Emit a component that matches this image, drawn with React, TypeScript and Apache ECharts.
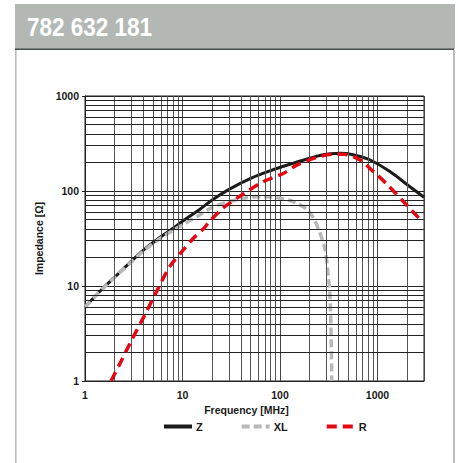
import React, { useEffect, useRef } from "react";
import * as echarts from "echarts";

const titleText = "782 632 181";
const xTickLabels = ["1", "10", "100", "1000"];
const xMinorGrid = [2, 3, 4, 5, 6, 7, 8, 9, 20, 30, 40, 50, 60, 70, 80, 90, 200, 300, 400, 500, 600, 700, 800, 900, 2000];
const yMinorGrid = [2, 3, 4, 5, 6, 7, 8, 9, 20, 30, 40, 50, 60, 70, 80, 90, 200, 300, 400, 500, 600, 700, 800, 900];

const zFreq = [1, 1.5, 2, 3, 4, 6, 8, 10, 15, 20, 30, 50, 80, 130, 190, 250, 330, 420, 560, 840, 1340, 2150, 3000];
const zVals = [6.0, 9.3, 12.3, 18.3, 24, 33, 40.5, 48, 64, 80, 104, 136, 164, 193, 217, 235, 246, 249, 241, 212, 160, 111, 86];

const xlFreq = [1, 1.5, 2, 3, 4, 6, 8, 10, 15, 20, 30, 45, 65, 80, 100, 125, 150, 190, 220, 255, 290, 313, 325, 334, 340];
const xlVals = [6.0, 9.2, 12.2, 18, 23.5, 32, 38.5, 44, 56, 67, 77, 85, 87, 86.5, 84, 80, 74, 64, 52, 37, 24, 12.5, 8.4, 3.2, 1.0];

const rFreq = [1.85, 2.3, 2.9, 4.1, 5.65, 7.4, 10.2, 13, 16.4, 19, 26, 42, 67, 108, 150, 240, 350, 450, 660, 910, 1230, 1850, 2700];
const rVals = [1.0, 1.55, 2.5, 4.95, 9.5, 16, 24, 32, 40, 48, 66, 93, 125, 153, 188, 226, 244, 244, 212, 160, 120, 77, 51];

const pairs = (xs: number[], ys: number[]) => xs.map((x, i) => [x, ys[i]]);

const FONT = "'Liberation Sans', Arial, sans-serif";

export default function App() {
  const ref = useRef<HTMLDivElement>(null);
  useEffect(() => {
    if (!ref.current) return;
    const chart = echarts.init(ref.current, undefined, { renderer: "svg" });
    const labelStyle = { fontFamily: FONT, fontWeight: "bold" as const, fontSize: 10.5, color: "#1a1a1a" };
    chart.setOption({
      animation: false,
      backgroundColor: "#ffffff",
      graphic: [
        { type: "rect", shape: { x: 15, y: 4, width: 440, height: 45 }, style: { fill: "#b3b8b5" } },
        { type: "rect", shape: { x: 15, y: 48.5, width: 439, height: 1.6 }, style: { fill: "#4a4d4b" } },
        { type: "rect", shape: { x: 15, y: 50, width: 1.6, height: 413 }, style: { fill: "#b8bcba" } },
        { type: "rect", shape: { x: 453, y: 50, width: 2, height: 413 }, style: { fill: "#b8bcba" } },
        {
          type: "text",
          x: 27,
          y: 27.5,
          scaleX: 0.9,
          style: {
            text: titleText,
            fill: "#ffffff",
            font: `bold 25px ${FONT}`,
            verticalAlign: "middle",
            align: "left",
          },
        },
      ],
      grid: { left: 85, top: 96, width: 339, height: 285, show: true, borderColor: "#222", borderWidth: 1 },
      legend: {
        left: 162,
        top: 421,
        padding: 0,
        itemWidth: 28,
        itemHeight: 12,
        itemGap: 37,
        itemStyle: { opacity: 0 },
        lineStyle: { width: 4 },
        textStyle: { ...labelStyle, fontSize: 11, padding: [0, 0, 0, -1] },
        data: ["Z", "XL", "R"],
      },
      xAxis: {
        type: "log",
        logBase: 10,
        min: 1,
        max: 3000,
        name: "Frequency [MHz]",
        nameLocation: "middle",
        nameGap: 22,
        nameTextStyle: { ...labelStyle, padding: [0, 16, 0, 0] },
        axisLine: { show: true, lineStyle: { color: "#222", width: 1 } },
        axisTick: { show: false },
        axisLabel: {
          ...labelStyle,
          margin: 8,
          showMaxLabel: false,
          formatter: (v: number) => {
            const s = String(Math.round(v));
            return xTickLabels.includes(s) ? s : "";
          },
        },
        splitLine: { show: true, lineStyle: { color: "#444", width: 1 } },
        minorTick: { show: false },
        minorSplitLine: { show: false },
      },
      yAxis: {
        type: "log",
        logBase: 10,
        min: 1,
        max: 1000,
        name: "Impedance [Ω]",
        nameLocation: "middle",
        nameGap: 22,
        nameRotate: 90,
        nameTextStyle: { ...labelStyle },
        axisLine: { show: true, lineStyle: { color: "#222", width: 1 } },
        axisTick: { show: true, length: 3, lineStyle: { color: "#222" } },
        axisLabel: { ...labelStyle, margin: 6, formatter: (v: number) => String(Math.round(v)) },
        splitLine: { show: true, lineStyle: { color: "#222", width: 1 } },
      },
      series: [
        {
          name: "grid",
          type: "line",
          data: [],
          z: 1,
          silent: true,
          markLine: {
            silent: true,
            symbol: ["none", "none"],
            label: { show: false },
            emphasis: { disabled: true },
            animation: false,
            data: [
              ...xMinorGrid.map((v) => ({ xAxis: v, lineStyle: { color: "#555", width: 1, type: "solid" } })),
              ...yMinorGrid.map((v) => ({ yAxis: v, lineStyle: { color: "#222", width: 1, type: "solid" } })),
            ],
          },
        },
        {
          name: "Z",
          type: "line",
          z: 3,
          data: pairs(zFreq, zVals),
          smooth: 0.3,
          showSymbol: false,
          symbol: "none",
          color: "#1a1a1a",
          lineStyle: { color: "#1a1a1a", width: 3 },
        },
        {
          name: "XL",
          type: "line",
          z: 4,
          data: pairs(xlFreq, xlVals),
          smooth: 0.3,
          showSymbol: false,
          symbol: "none",
          color: "#b8b8b8",
          lineStyle: { color: "#b8b8b8", width: 3.5, type: [8, 4] },
        },
        {
          name: "R",
          type: "line",
          z: 5,
          data: pairs(rFreq, rVals),
          smooth: 0.3,
          showSymbol: false,
          symbol: "none",
          color: "#e30613",
          lineStyle: { color: "#e30613", width: 3.5, type: [10, 6] },
        },
      ],
    });
    return () => chart.dispose();
  }, []);
  return <div ref={ref} style={{ position: "fixed", left: 0, top: 0, width: 458, height: 463 }} />;
}
